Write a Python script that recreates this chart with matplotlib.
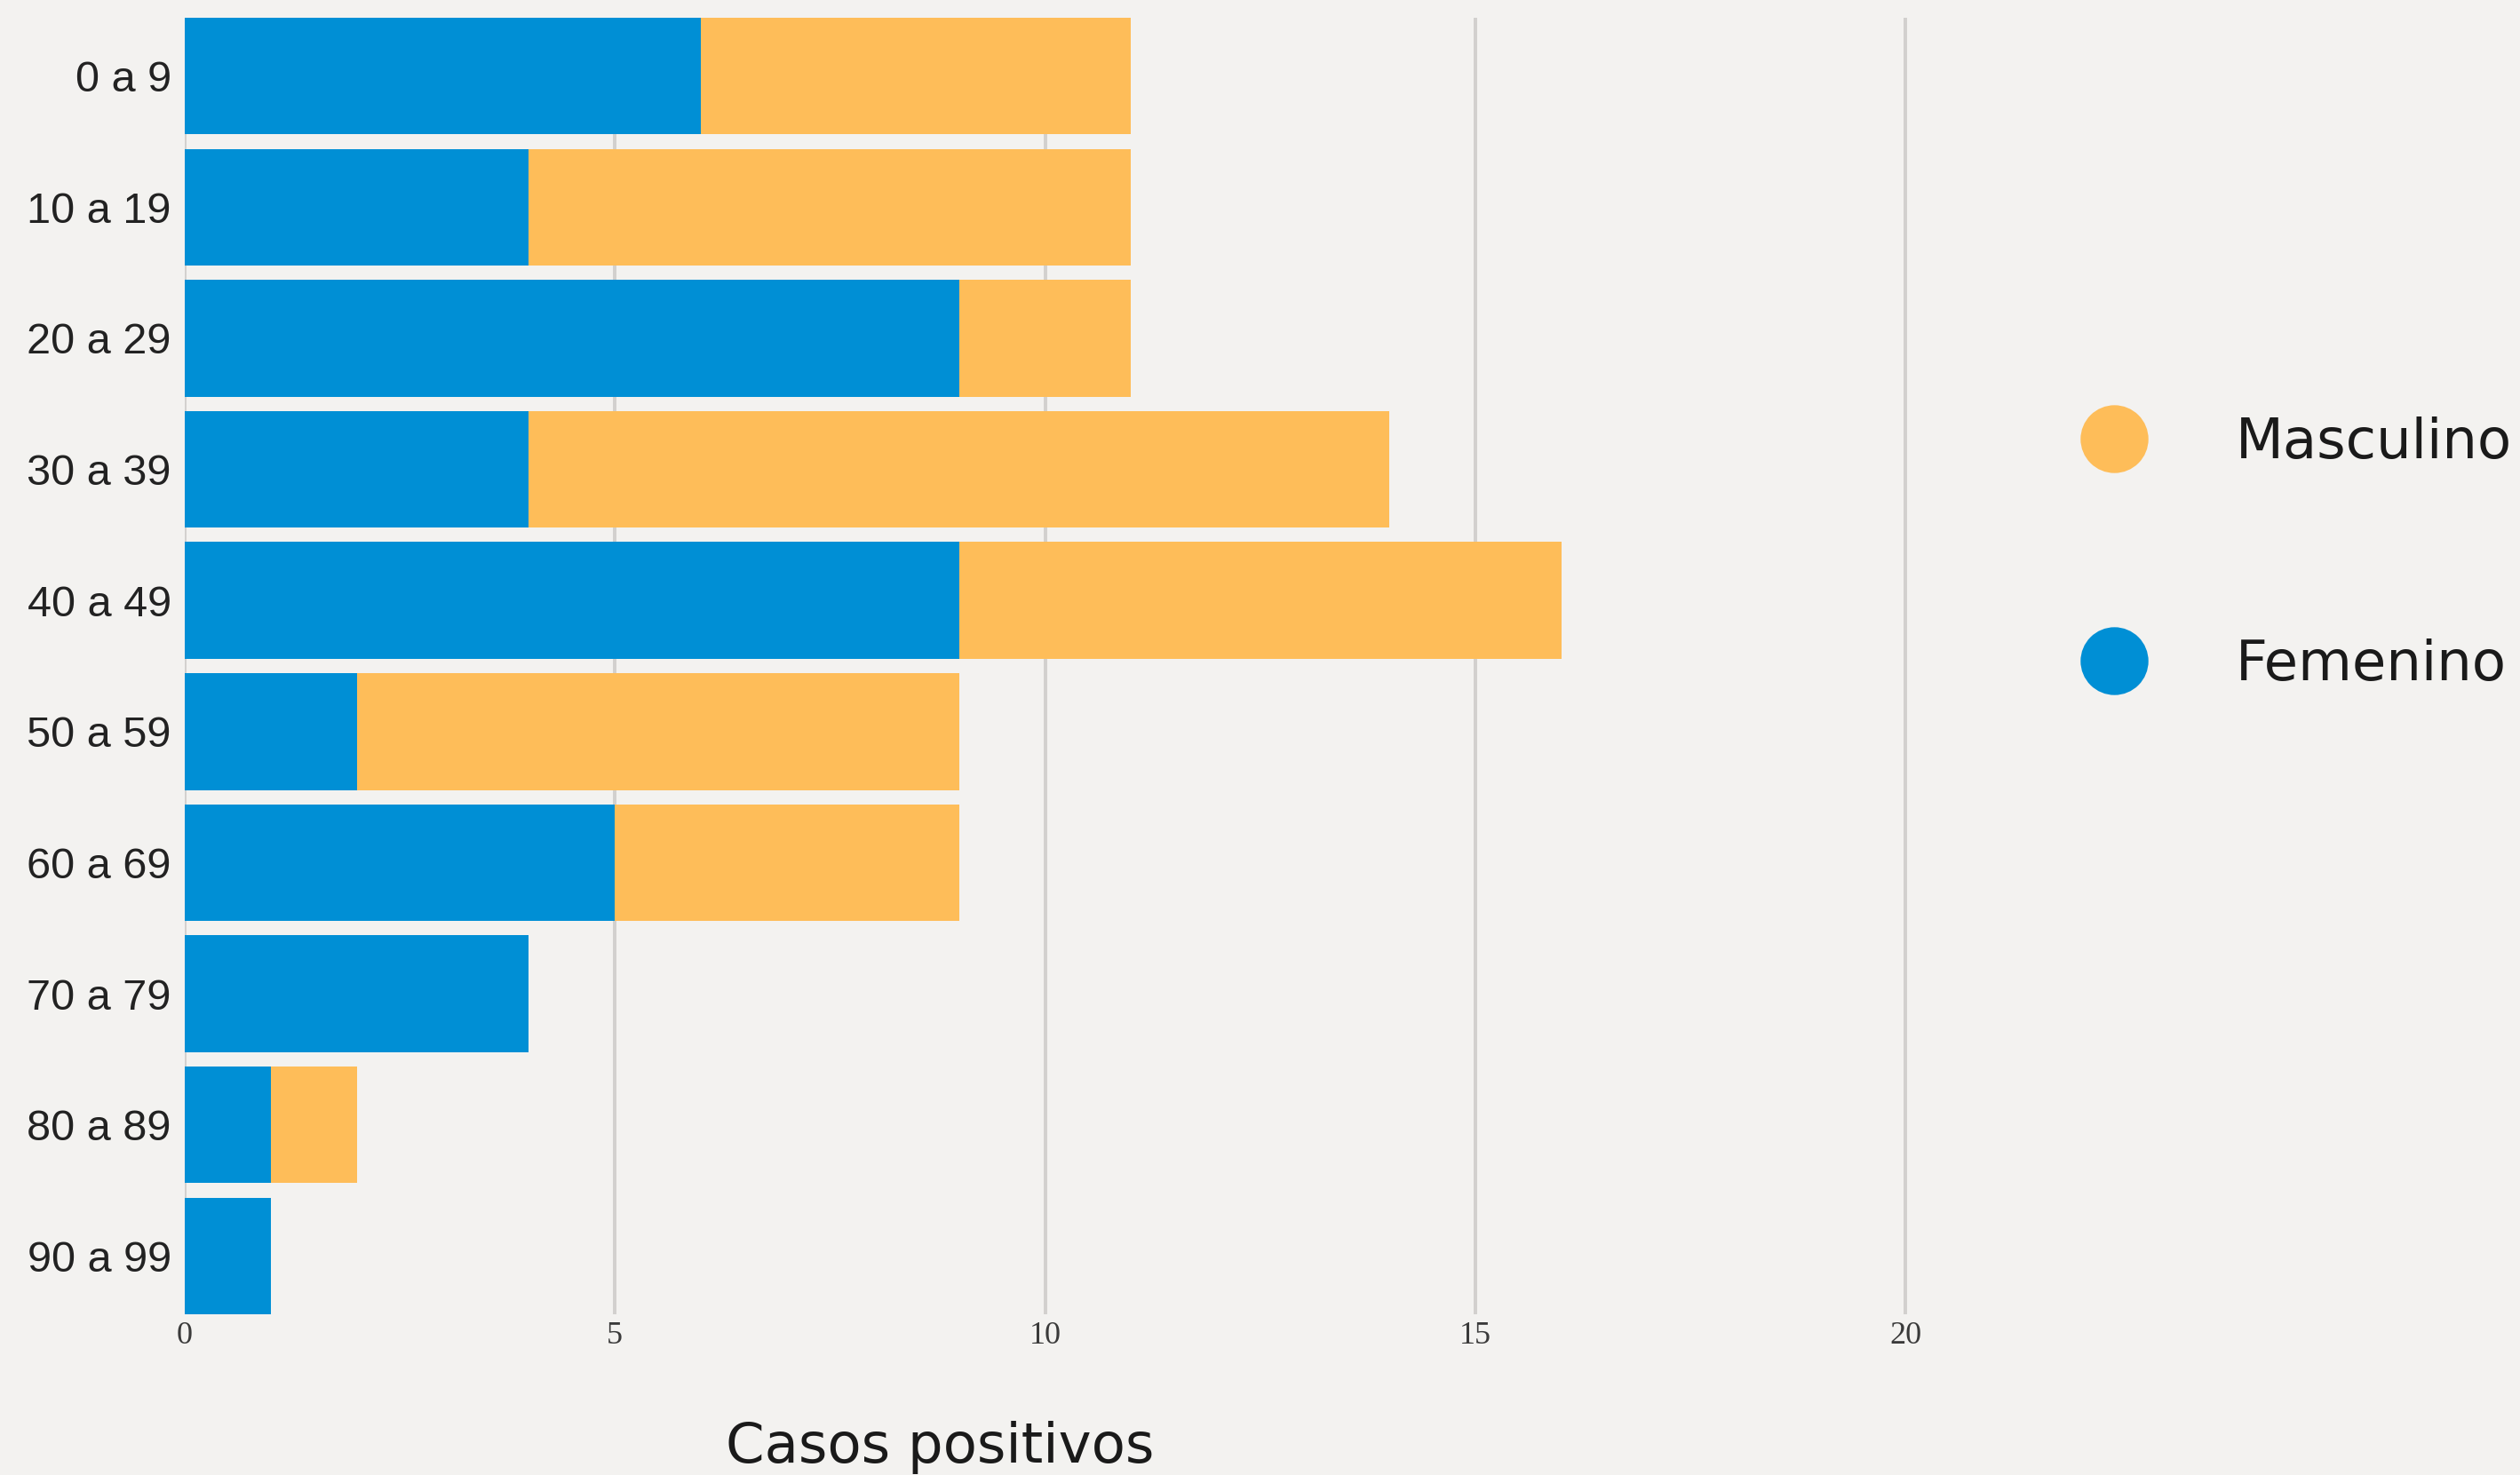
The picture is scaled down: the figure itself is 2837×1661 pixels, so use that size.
import matplotlib
matplotlib.use("Agg")
import matplotlib.pyplot as plt
from matplotlib.lines import Line2D

# Data
categories = ["0 a 9", "10 a 19", "20 a 29", "30 a 39", "40 a 49",
              "50 a 59", "60 a 69", "70 a 79", "80 a 89", "90 a 99"]
femenino = [6, 4, 9, 4, 9, 2, 5, 4, 1, 1]
masculino = [5, 7, 2, 10, 7, 7, 4, 0, 1, 0]
xticks = [0, 5, 10, 15, 20]

BG = "#f3f2f0"
BLUE = "#008fd5"
ORANGE = "#febd59"

W, H = 2837, 1661
fig = plt.figure(figsize=(W / 100, H / 100), dpi=100, facecolor=BG)

left_px, top_px, bottom_px = 208, 20, 1480
xmax = 22
unit_px = (2145 - 208) / 20.0
width_px = xmax * unit_px
ax = fig.add_axes([left_px / W, 1 - bottom_px / H, width_px / W, (bottom_px - top_px) / H])
ax.set_facecolor(BG)

ypos = list(range(len(categories)))
h = 0.89
ax.barh(ypos, femenino, height=h, color=BLUE, linewidth=0, zorder=2, label="Femenino")
ax.barh(ypos, masculino, height=h, left=femenino, color=ORANGE, linewidth=0, zorder=2,
        label="Masculino")

ax.set_ylim(len(categories) - 1 + h / 2, -h / 2)
ax.set_xlim(0, xmax)
ax.set_xticks(xticks)
ax.set_xticklabels([str(t) for t in xticks], family="Liberation Serif", fontsize=26,
                   color="#3a3a3a")
ax.set_yticks(ypos)
ax.set_yticklabels(categories, family="Liberation Sans", fontsize=35, color="#222222")
ax.tick_params(axis="both", length=0)
ax.tick_params(axis="x", pad=6)
ax.tick_params(axis="y", pad=11)

ax.set_axisbelow(True)
ax.grid(axis="x", color="#d2d0ce", linewidth=2.8)
ax.grid(axis="y", visible=False)
for s in ax.spines.values():
    s.set_visible(False)

ax.set_xlabel("Casos positivos", family="DejaVu Sans", fontsize=45, color="#1a1a1a")
ax.xaxis.label.set_va("baseline")
ax.xaxis.set_label_coords((1058 - left_px) / width_px, -(1647 - bottom_px) / (bottom_px - top_px))

handles = [
    Line2D([], [], linestyle="none", marker="o", markersize=55, markerfacecolor=ORANGE,
           markeredgewidth=0),
    Line2D([], [], linestyle="none", marker="o", markersize=55, markerfacecolor=BLUE,
           markeredgewidth=0),
]
leg = fig.legend(handles, ["Masculino", "Femenino"], loc="center left",
                 bbox_to_anchor=(2317 / W, 1 - 624 / H), bbox_transform=fig.transFigure,
                 frameon=False, borderpad=0, borderaxespad=0, handlelength=2,
                 handletextpad=1.2, labelspacing=3.05,
                 prop={"family": "DejaVu Sans", "size": 45})
for t in leg.get_texts():
    t.set_color("#1a1a1a")

fig.savefig("out.png", dpi=100, facecolor=BG)
